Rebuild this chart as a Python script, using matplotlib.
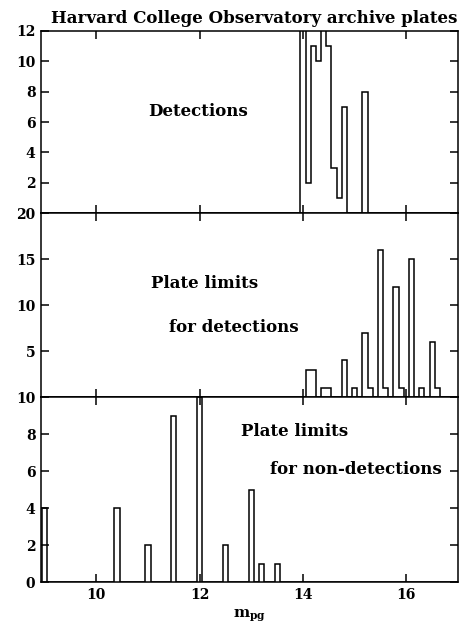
import numpy as np
import matplotlib.pyplot as plt

# bin centres (mag) and counts, 0.1 mag bins
det_mag = [14.0, 14.1, 14.2, 14.3, 14.4, 14.5, 14.6, 14.7, 14.8, 15.2]
det_n = [12.5, 2, 11, 10, 12.5, 11, 3, 1, 7, 8]

limdet_mag = [14.1, 14.2, 14.4, 14.5, 14.8, 15.0, 15.2, 15.3, 15.5, 15.6,
              15.8, 15.9, 16.1, 16.3, 16.5, 16.6]
limdet_n = [3, 3, 1, 1, 4, 1, 7, 1, 16, 1, 12, 1, 15, 1, 6, 1]

limnon_mag = [9.0, 10.4, 11.0, 11.5, 12.0, 12.5, 13.0, 13.2, 13.5]
limnon_n = [4, 4, 2, 9, 10, 2, 5, 1, 1]

plt.rcParams['font.family'] = 'DejaVu Serif'
plt.rcParams['font.weight'] = 'bold'
plt.rcParams['mathtext.fontset'] = 'dejavuserif'

edges = np.round(np.arange(8.85, 17.06, 0.1), 2)

fig, axes = plt.subplots(3, 1, figsize=(4.69, 6.25), dpi=100, sharex=True,
                         gridspec_kw=dict(height_ratios=[182, 184, 185]))
fig.subplots_adjust(left=0.0874, right=0.9765, bottom=0.0683, top=0.9504, hspace=0)

panels = [(det_mag, det_n, 12, [2, 4, 6, 8, 10, 12]),
          (limdet_mag, limdet_n, 20, [5, 10, 15, 20]),
          (limnon_mag, limnon_n, 10, [0, 2, 4, 6, 8, 10])]

for ax, (m, n, top, yt) in zip(axes, panels):
    ax.hist(m, bins=edges, weights=n, histtype='step', color='k', lw=1.1)
    ax.set_xlim(8.93, 17.0)
    ax.set_ylim(0, top)
    ax.set_yticks(yt)
    ax.set_xticks([10, 12, 14, 16])
    ax.tick_params(direction='in', top=True, right=True, length=6, width=1.1,
                   labelsize=10, pad=4)
    for s in ax.spines.values():
        s.set_linewidth(1.1)

axes[2].set_xlabel(r'$\mathbf{m}_{\mathbf{pg}}$', fontsize=11, labelpad=4)

fs = 12
fig.text(0.5416, 0.971, 'Harvard College Observatory archive plates',
         ha='center', va='center', fontsize=fs)
fig.text(0.422, 0.821, 'Detections', ha='center', va='center', fontsize=fs)
fig.text(0.437, 0.5456, 'Plate limits', ha='center', va='center', fontsize=fs)
fig.text(0.6375, 0.4768, 'for detections', ha='right', va='center', fontsize=fs)
fig.text(0.627, 0.3104, 'Plate limits', ha='center', va='center', fontsize=fs)
fig.text(0.9424, 0.248, 'for non-detections', ha='right', va='center', fontsize=fs)

fig.savefig('out.png', dpi=100)
